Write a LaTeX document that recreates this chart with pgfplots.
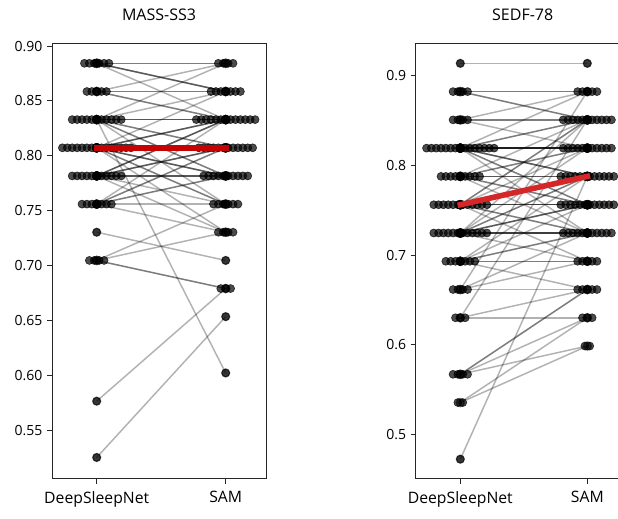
\documentclass[border=0pt]{standalone}
\usepackage{pgfplots}
\pgfplotsset{compat=1.18}
\usepackage{fontspec}
\setmainfont{Open Sans}
\definecolor{medred}{RGB}{214,39,40}
\definecolor{darkmed}{RGB}{196,4,4}

% one row of the swarm: centre x, score level, number of subjects
\newcommand{\swarm}[3]{%
  \pgfplotsinvokeforeach{1,...,#3}{%
    \pgfmathsetmacro{\xx}{#1+(##1-(#3+1)/2)*0.038}%
    \edef\tmp{\noexpand\addplot[swdot] coordinates {(\xx,#2)};}\tmp}}
% subjects going from one level (DeepSleepNet) to another (SAM), count
\newcommand{\pair}[3]{%
  \pgfplotsinvokeforeach{1,...,#3}{\addplot[link] coordinates {(0,#1) (1,#2)};}}

\pgfplotsset{
  panel/.style={
    set layers,
    scale only axis, width=160.5pt, height=326.6pt,
    anchor=south west,
    axis line style={black!85, line width=0.75pt},
    tick style={black!85, line width=0.75pt},
    tick align=outside, major tick length=3.75pt,
    xtick pos=bottom, ytick pos=left,
    xtick={0,1}, xticklabels={DeepSleepNet,SAM},
    xticklabel style={font=\fontsize{11.8}{14}\selectfont, yshift=-2pt},
    yticklabel style={font=\fontsize{10.5}{12}\selectfont},
    every axis title/.style={font=\fontsize{12}{14}\selectfont,
      at={(0.5,1)}, anchor=center, yshift=21.4pt},
    /pgf/number format/assume math mode=true,
  },
  swdot/.style={only marks, mark=*, mark size=3pt,
    mark options={draw=black, fill=black, line width=0.5pt, opacity=0.7}},
  link/.style={black, opacity=0.3, line width=1.1pt, mark=*, mark size=3pt},
  medline/.style={line width=4.2pt, line cap=rect, no marks, on layer=axis foreground},
}

\begin{document}
\begin{tikzpicture}
% ---------------- MASS-SS3 ----------------
\begin{axis}[panel, at={(39pt,29.25pt)},
  title={MASS-SS3},
  xmin=-0.3465, xmax=1.3124, ymin=0.5056, ymax=0.9023,
  ytick={0.55,0.60,0.65,0.70,0.75,0.80,0.85,0.90},
  yticklabel style={/pgf/number format/.cd, fixed, fixed zerofill, precision=2},
]
\swarm{0}{0.8843}{6}  \swarm{1}{0.8843}{4}
\swarm{0}{0.8586}{5}  \swarm{1}{0.8586}{7}
\swarm{0}{0.8330}{11} \swarm{1}{0.8330}{13}
\swarm{0}{0.8073}{15} \swarm{1}{0.8073}{12}
\swarm{0}{0.7817}{11} \swarm{1}{0.7817}{10}
\swarm{0}{0.7560}{7}  \swarm{1}{0.7560}{6}
\swarm{0}{0.7304}{1}  \swarm{1}{0.7304}{4}
\swarm{0}{0.7047}{4}  \swarm{1}{0.7047}{1}
\swarm{1}{0.6791}{3}
\swarm{1}{0.6535}{1}
\swarm{1}{0.6022}{1}
\swarm{0}{0.5765}{1}
\swarm{0}{0.5252}{1}

\pair{0.8843}{0.8843}{2} \pair{0.8843}{0.8586}{3} \pair{0.8843}{0.8330}{1}
\pair{0.8586}{0.8843}{1} \pair{0.8586}{0.8586}{2} \pair{0.8586}{0.8330}{2}
\pair{0.8330}{0.8843}{1} \pair{0.8330}{0.8586}{1} \pair{0.8330}{0.8330}{3}
\pair{0.8330}{0.8073}{2} \pair{0.8330}{0.7817}{2} \pair{0.8330}{0.7560}{1}
\pair{0.8330}{0.6022}{1}
\pair{0.8073}{0.8586}{1} \pair{0.8073}{0.8330}{3} \pair{0.8073}{0.8073}{5}
\pair{0.8073}{0.7817}{3} \pair{0.8073}{0.7560}{2} \pair{0.8073}{0.7304}{1}
\pair{0.7817}{0.8330}{3} \pair{0.7817}{0.8073}{3} \pair{0.7817}{0.7817}{3}
\pair{0.7817}{0.7560}{1} \pair{0.7817}{0.7304}{1}
\pair{0.7560}{0.8330}{1} \pair{0.7560}{0.8073}{2} \pair{0.7560}{0.7817}{2}
\pair{0.7560}{0.7560}{1} \pair{0.7560}{0.7304}{1}
\pair{0.7304}{0.7047}{1}
\pair{0.7047}{0.6791}{2} \pair{0.7047}{0.7304}{1} \pair{0.7047}{0.7560}{1}
\pair{0.5765}{0.6791}{1}
\pair{0.5252}{0.6535}{1}

\addplot[medline, darkmed] coordinates {(0,0.8073) (1,0.8073)};
\end{axis}

% ---------------- SEDF-78 ----------------
\begin{axis}[panel, at={(311.8pt,29.25pt)},
  title={SEDF-78},
  xmin=-0.351, xmax=1.334, ymin=0.4505, ymax=0.9359,
  ytick={0.5,0.6,0.7,0.8,0.9},
  yticklabel style={/pgf/number format/.cd, fixed, fixed zerofill, precision=1},
]
\swarm{0}{0.9138}{1}  \swarm{1}{0.9138}{1}
\swarm{0}{0.8823}{4}  \swarm{1}{0.8823}{5}
\swarm{0}{0.8508}{4}  \swarm{1}{0.8508}{11}
\swarm{0}{0.8193}{15} \swarm{1}{0.8193}{11}
\swarm{0}{0.7878}{9}  \swarm{1}{0.7878}{12}
\swarm{0}{0.7562}{12} \swarm{1}{0.7562}{12}
\swarm{0}{0.7247}{12} \swarm{1}{0.7247}{11}
\swarm{0}{0.6932}{7}  \swarm{1}{0.6932}{5}
\swarm{0}{0.6617}{4}  \swarm{1}{0.6617}{5}
\swarm{0}{0.6302}{3}  \swarm{1}{0.6302}{3}
\swarm{1}{0.5987}{2}
\swarm{0}{0.5672}{4}
\swarm{0}{0.5357}{2}
\swarm{0}{0.4726}{1}

\pair{0.9138}{0.9138}{1}
\pair{0.8823}{0.8823}{2} \pair{0.8823}{0.8508}{2}
\pair{0.8508}{0.8508}{2} \pair{0.8508}{0.8823}{1} \pair{0.8508}{0.8193}{1}
\pair{0.8193}{0.8823}{1} \pair{0.8193}{0.8508}{2} \pair{0.8193}{0.8193}{6}
\pair{0.8193}{0.7878}{3} \pair{0.8193}{0.7562}{2} \pair{0.8193}{0.7247}{1}
\pair{0.7878}{0.8508}{1} \pair{0.7878}{0.8193}{2} \pair{0.7878}{0.7878}{3}
\pair{0.7878}{0.7562}{2} \pair{0.7878}{0.7247}{1}
\pair{0.7562}{0.8508}{2} \pair{0.7562}{0.8193}{1} \pair{0.7562}{0.7878}{2}
\pair{0.7562}{0.7562}{4} \pair{0.7562}{0.7247}{2} \pair{0.7562}{0.6932}{1}
\pair{0.7247}{0.8508}{1} \pair{0.7247}{0.8193}{1} \pair{0.7247}{0.7878}{2}
\pair{0.7247}{0.7562}{3} \pair{0.7247}{0.7247}{4} \pair{0.7247}{0.6932}{1}
\pair{0.6932}{0.7878}{1} \pair{0.6932}{0.7562}{1} \pair{0.6932}{0.7247}{2}
\pair{0.6932}{0.6932}{2} \pair{0.6932}{0.6617}{1}
\pair{0.6617}{0.8823}{1} \pair{0.6617}{0.7247}{1} \pair{0.6617}{0.6932}{1}
\pair{0.6617}{0.6617}{1}
\pair{0.6302}{0.8508}{1} \pair{0.6302}{0.6617}{1} \pair{0.6302}{0.6302}{1}
\pair{0.5672}{0.6617}{2} \pair{0.5672}{0.6302}{1} \pair{0.5672}{0.5987}{1}
\pair{0.5357}{0.6302}{1} \pair{0.5357}{0.5987}{1}
\pair{0.4726}{0.7878}{1}

\addplot[medline, medred] coordinates {(0,0.7562) (1,0.7878)};
\end{axis}

\pgfresetboundingbox
\path[use as bounding box] (0,0) rectangle (463.5pt,388.5pt);
\end{tikzpicture}
\end{document}
